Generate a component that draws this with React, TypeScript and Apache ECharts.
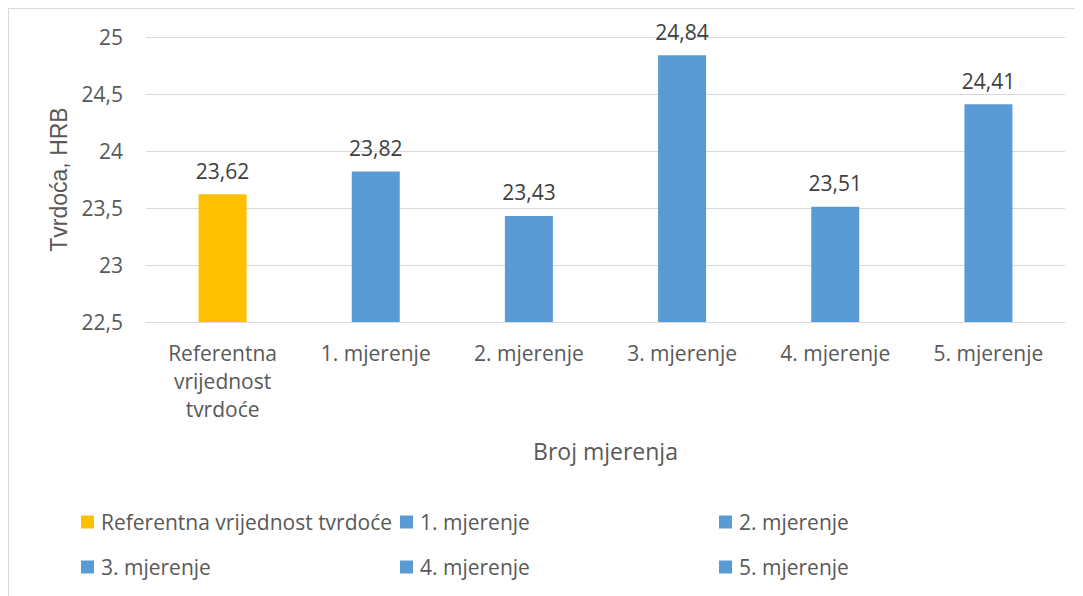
import React, { useEffect, useRef } from "react";
import * as echarts from "echarts";

const categories = [
  "Referentna vrijednost tvrdoće",
  "1. mjerenje",
  "2. mjerenje",
  "3. mjerenje",
  "4. mjerenje",
  "5. mjerenje",
];
const xTickLabels = [
  "Referentna\nvrijednost\ntvrdoće",
  "1. mjerenje",
  "2. mjerenje",
  "3. mjerenje",
  "4. mjerenje",
  "5. mjerenje",
];
const values = [23.62, 23.82, 23.43, 24.84, 23.51, 24.41];
const colors = ["#FFC000", "#5B9BD5", "#5B9BD5", "#5B9BD5", "#5B9BD5", "#5B9BD5"];
const yMin = 22.5;
const yMax = 25;
const yInterval = 0.5;
const xTitle = "Broj mjerenja";
const yTitle = "Tvrdoća, HRB";

const FONT = "'Open Sans', sans-serif";
const TXT = "#595959";

const fmt = (v: number) => String(v).replace(".", ",");

export default function App() {
  const ref = useRef<HTMLDivElement>(null);
  useEffect(() => {
    if (!ref.current) return;
    const chart = echarts.init(ref.current, null, { renderer: "svg" });
    const legendLefts = [72, 391, 710, 72, 391, 710];
    const legendTops = [501, 501, 501, 546, 546, 546];
    const series = categories.map((name, i) => ({
      name,
      type: "bar",
      stack: "total",
      barWidth: 48,
      data: values.map((v, j) => (j === i ? v : "-")),
      itemStyle: { color: colors[i] },
      label: {
        show: true,
        position: "top",
        distance: 13,
        color: "#404040",
        fontFamily: FONT,
        fontSize: 21,
        formatter: (p: any) => fmt(p.value),
      },
    }));
    chart.setOption({
      animation: false,
      textStyle: { fontFamily: FONT },
      grid: { left: 137, top: 28, width: 919, height: 285, containLabel: false },
      legend: categories.map((name, i) => ({
        data: [{ name, icon: "rect" }],
        left: legendLefts[i],
        top: legendTops[i],
        padding: 0,
        itemWidth: 13,
        itemHeight: 13,
        selectedMode: false,
        textStyle: {
          color: TXT,
          fontFamily: FONT,
          fontSize: 21,
          lineHeight: 24,
          padding: [0, 0, 0, 2],
        },
      })),
      xAxis: {
        type: "category",
        data: categories,
        name: xTitle,
        nameLocation: "middle",
        nameGap: 117,
        nameTextStyle: { color: TXT, fontFamily: FONT, fontSize: 23 },
        axisLine: { lineStyle: { color: "#d9d9d9", width: 1 } },
        axisTick: { show: false },
        axisLabel: {
          interval: 0,
          color: TXT,
          fontFamily: FONT,
          fontSize: 21,
          lineHeight: 28,
          margin: 17,
          formatter: (_v: string, idx: number) => xTickLabels[idx],
        },
      },
      yAxis: {
        type: "value",
        min: yMin,
        max: yMax,
        interval: yInterval,
        name: yTitle,
        nameLocation: "middle",
        nameGap: 76,
        nameRotate: 90,
        nameTextStyle: { color: TXT, fontFamily: "'Liberation Sans', Arial, sans-serif", fontSize: 23 },
        axisLine: { show: false },
        axisTick: { show: false },
        splitLine: { lineStyle: { color: "#d9d9d9", width: 1 } },
        axisLabel: {
          color: TXT,
          fontFamily: FONT,
          fontSize: 21,
          margin: 23,
          formatter: (v: number) => fmt(v),
        },
      },
      series,
    });
    return () => chart.dispose();
  }, []);
  return (
    <div
      style={{
        width: 1075,
        height: 588,
        boxSizing: "border-box",
        borderTop: "1px solid #d9d9d9",
        borderLeft: "1px solid #d9d9d9",
        overflow: "hidden",
      }}
    >
      <div ref={ref} style={{ width: 1074, height: 587 }} />
    </div>
  );
}
